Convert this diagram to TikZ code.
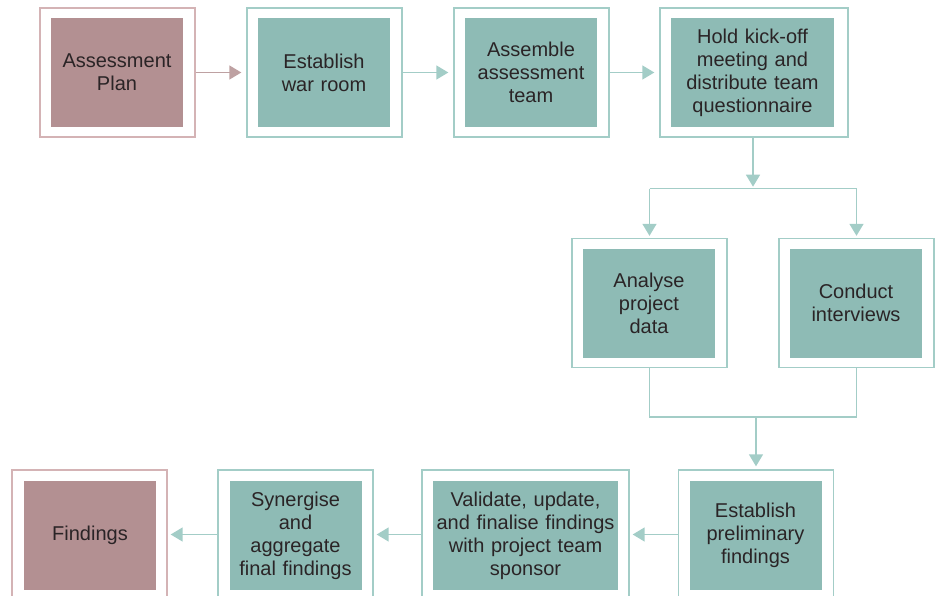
\documentclass[tikz,border=0pt]{standalone}
\usepackage{fontspec}
\setmainfont{Liberation Sans}
\usetikzlibrary{arrows.meta}
\usetikzlibrary{calc}
\usepackage{xcolor}

\definecolor{tealfill}{HTML}{8EBBB5}
\definecolor{tealline}{HTML}{A3CDC7}
\definecolor{mauvefill}{HTML}{B39092}
\definecolor{mauveline}{HTML}{D4B3B5}
\definecolor{textgrey}{HTML}{2A2426}

\tikzset{
    frame/.style={draw=tealline, line width=1.4pt, minimum width=155pt, minimum height=129pt, inner sep=0pt},
    mframe/.style={frame, draw=mauveline},
    stage/.style={fill=tealfill, minimum width=132pt, minimum height=109pt, text width=130pt, align=center, inner sep=0pt, text=textgrey, font=\fontsize{20}{23}\selectfont},
    mstage/.style={stage, fill=mauvefill},
    flow/.style={draw=tealline, line width=1.5pt},
    mflow/.style={flow, draw=mauvefill!85},
    flowarrow/.style={-{Triangle[length=12pt,width=14pt]}},
}

\begin{document}
\begin{tikzpicture}[x=1pt,y=-1pt]
    \useasboundingbox (0,0) rectangle (939,596);
    % top row
    \node[mframe] (plan) at (117.5,72.5) {};
    \node[mstage] (plan-in) at (117,72.5) {Assessment\\Plan};
    \node[frame] (warroom) at (324.5,72.5) {};
    \node[stage] (warroom-in) at (324,72.5) {Establish\\war room};
    \node[frame] (team) at (531.5,72.5) {};
    \node[stage] (team-in) at (531,72.5) {Assemble\\assessment\\team};
    \node[frame, minimum width=188pt] (kickoff) at (754,72.5) {};
    \node[stage, minimum width=163pt, text width=160pt] (kickoff-in) at (752.5,72.5) {Hold kick-off\\meeting and\\distribute team\\questionnaire};
    % middle row
    \node[frame] (analyse) at (649.5,303) {};
    \node[stage] (analyse-in) at (649,303) {Analyse\\project\\data};
    \node[frame] (interview) at (856.5,303) {};
    \node[stage] (interview-in) at (856,303) {Conduct\\interviews};
    % bottom row
    \node[frame] (prelim) at (756,534.5) {};
    \node[stage] (prelim-in) at (755.5,535.5) {Establish\\preliminary\\findings};
    \node[frame, minimum width=207pt] (validate) at (525.5,534.5) {};
    \node[stage, minimum width=185pt, text width=183pt] (validate-in) at (525.5,535.5) {Validate, update,\\and finalise findings\\with project team\\sponsor};
    \node[frame] (synergise) at (295.5,534.5) {};
    \node[stage] (synergise-in) at (295.5,535.5) {Synergise\\and\\aggregate\\final findings};
    \node[mframe] (findings) at (89.5,534.5) {};
    \node[mstage] (findings-in) at (90,535.5) {Findings};

    % connectors
    \draw[mflow, flowarrow, shorten >=5pt] (plan) -- (warroom);
    \draw[flow, flowarrow, shorten >=5pt] (warroom) -- (team);
    \draw[flow, flowarrow, shorten >=5pt] (team) -- (kickoff);

    \coordinate (split) at ($(kickoff.south)+(-1,51)$);
    \draw[flow, flowarrow, shorten >=2pt] (kickoff.south -| split) -- (split);
    \draw[flow] (split -| analyse) -- (split -| interview);
    \draw[flow, flowarrow, shorten >=2pt] (split -| analyse) -- (analyse.north);
    \draw[flow, flowarrow, shorten >=2pt] (split -| interview) -- (interview.north);

    \coordinate (merge) at ($(analyse.south)+(0,49)$);
    \draw[flow] (analyse.south) -- (merge) -| (interview.south);
    \draw[flow, flowarrow, shorten >=3pt] (merge -| prelim) -- (prelim.north);

    \draw[flow, flowarrow, shorten >=3pt] (prelim) -- (validate);
    \draw[flow, flowarrow, shorten >=3pt] (validate) -- (synergise);
    \draw[flow, flowarrow, shorten >=3pt] (synergise) -- (findings);
\end{tikzpicture}
\end{document}
